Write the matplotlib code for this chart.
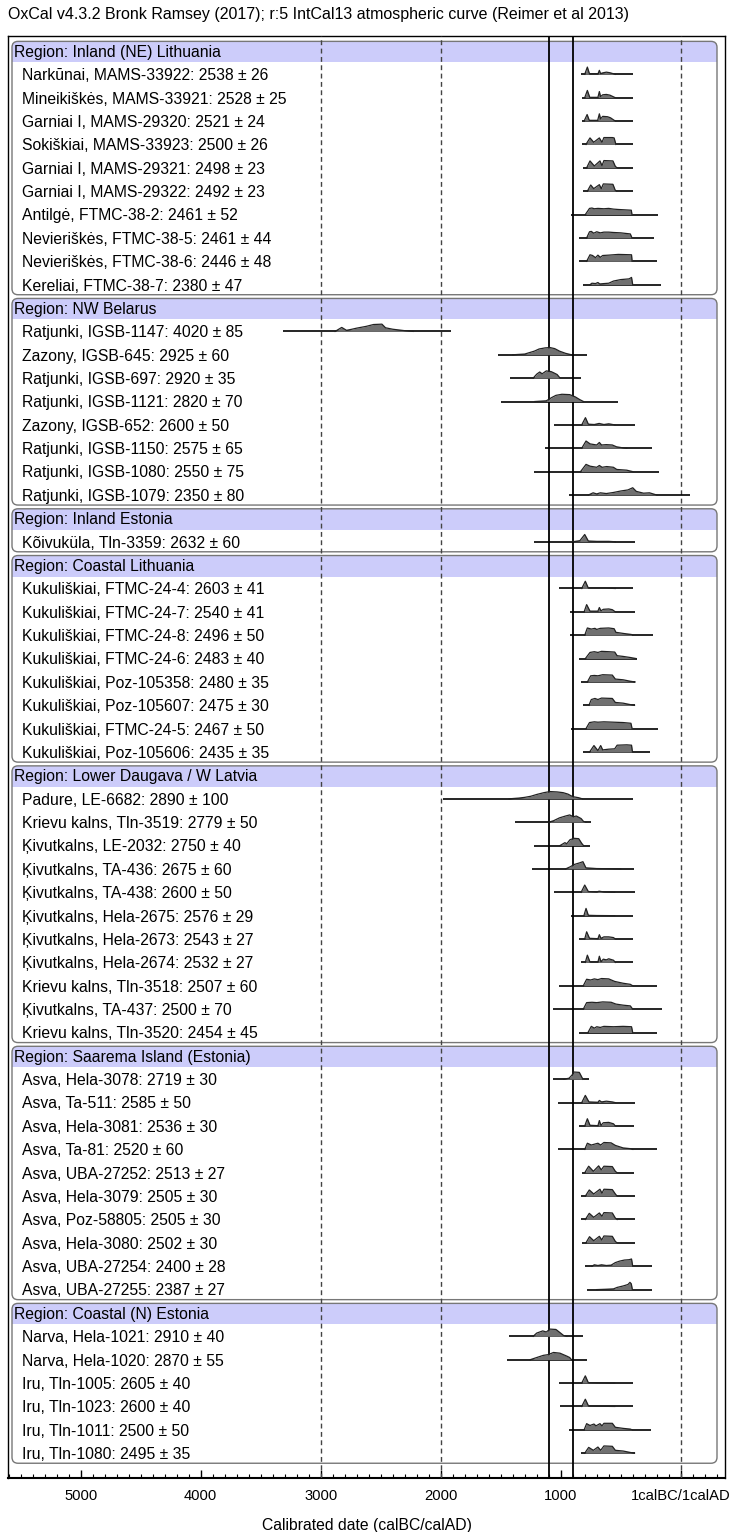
import matplotlib
matplotlib.use("Agg")
import matplotlib.pyplot as plt
from matplotlib.patches import FancyBboxPatch, Rectangle
from matplotlib.ticker import FixedLocator, MultipleLocator

plt.rcParams['font.family'] = ['Liberation Sans', 'DejaVu Sans']

TITLE = ("OxCal v4.3.2 Bronk Ramsey (2017); r:5 IntCal13 atmospheric curve "
         "(Reimer et al 2013)")
X_LABEL = "Calibrated date (calBC/calAD)"

region_names = [
    "Region: Inland (NE) Lithuania",
    "Region: NW Belarus",
    "Region: Inland Estonia",
    "Region: Coastal Lithuania",
    "Region: Lower Daugava / W Latvia",
    "Region: Saarema Island (Estonia)",
    "Region: Coastal (N) Estonia",
]
region_sizes = [10, 8, 1, 8, 11, 10, 6]

sample_labels = [
    "Narkūnai, MAMS-33922: 2538 ± 26",
    "Mineikiškės, MAMS-33921: 2528 ± 25",
    "Garniai I, MAMS-29320: 2521 ± 24",
    "Sokiškiai, MAMS-33923: 2500 ± 26",
    "Garniai I, MAMS-29321: 2498 ± 23",
    "Garniai I, MAMS-29322: 2492 ± 23",
    "Antilgė, FTMC-38-2: 2461 ± 52",
    "Nevieriškės, FTMC-38-5: 2461 ± 44",
    "Nevieriškės, FTMC-38-6: 2446 ± 48",
    "Kereliai, FTMC-38-7: 2380 ± 47",
    "Ratjunki, IGSB-1147: 4020 ± 85",
    "Zazony, IGSB-645: 2925 ± 60",
    "Ratjunki, IGSB-697: 2920 ± 35",
    "Ratjunki, IGSB-1121: 2820 ± 70",
    "Zazony, IGSB-652: 2600 ± 50",
    "Ratjunki, IGSB-1150: 2575 ± 65",
    "Ratjunki, IGSB-1080: 2550 ± 75",
    "Ratjunki, IGSB-1079: 2350 ± 80",
    "Kõivuküla, Tln-3359: 2632 ± 60",
    "Kukuliškiai, FTMC-24-4: 2603 ± 41",
    "Kukuliškiai, FTMC-24-7: 2540 ± 41",
    "Kukuliškiai, FTMC-24-8: 2496 ± 50",
    "Kukuliškiai, FTMC-24-6: 2483 ± 40",
    "Kukuliškiai, Poz-105358: 2480 ± 35",
    "Kukuliškiai, Poz-105607: 2475 ± 30",
    "Kukuliškiai, FTMC-24-5: 2467 ± 50",
    "Kukuliškiai, Poz-105606: 2435 ± 35",
    "Padure, LE-6682: 2890 ± 100",
    "Krievu kalns, Tln-3519: 2779 ± 50",
    "Ķivutkalns, LE-2032: 2750 ± 40",
    "Ķivutkalns, TA-436: 2675 ± 60",
    "Ķivutkalns, TA-438: 2600 ± 50",
    "Ķivutkalns, Hela-2675: 2576 ± 29",
    "Ķivutkalns, Hela-2673: 2543 ± 27",
    "Ķivutkalns, Hela-2674: 2532 ± 27",
    "Krievu kalns, Tln-3518: 2507 ± 60",
    "Ķivutkalns, TA-437: 2500 ± 70",
    "Krievu kalns, Tln-3520: 2454 ± 45",
    "Asva, Hela-3078: 2719 ± 30",
    "Asva, Ta-511: 2585 ± 50",
    "Asva, Hela-3081: 2536 ± 30",
    "Asva, Ta-81: 2520 ± 60",
    "Asva, UBA-27252: 2513 ± 27",
    "Asva, Hela-3079: 2505 ± 30",
    "Asva, Poz-58805: 2505 ± 30",
    "Asva, Hela-3080: 2502 ± 30",
    "Asva, UBA-27254: 2400 ± 28",
    "Asva, UBA-27255: 2387 ± 27",
    "Narva, Hela-1021: 2910 ± 40",
    "Narva, Hela-1020: 2870 ± 55",
    "Iru, Tln-1005: 2605 ± 40",
    "Iru, Tln-1023: 2600 ± 40",
    "Iru, Tln-1011: 2500 ± 50",
    "Iru, Tln-1080: 2495 ± 35",
]

# extent of the range line under each distribution (calBC, negative = calAD)
range_start_bc = [
    834, 823, 823, 823, 812, 812, 912, 845, 845, 812,
    3317, 1519, 1422, 1500, 1055, 1133, 1222, 933,
    1223,
    1012, 923, 923, 845, 828, 817, 912, 812,
    1980, 1384, 1223, 1239, 1056, 912, 845, 834, 1012, 1061, 845,
    1061, 1023, 845, 1023, 823, 828, 828, 823, 800, 784,
    1428, 1445, 1012, 1006, 928, 834,
]
range_end_bc = [
    395, 395, 395, 395, 395, 395, 189, 223, 195, 161,
    1914, 783, 833, 525, 380, 242, 183, -81,
    378,
    395, 384, 228, 367, 378, 384, 189, 256,
    395, 750, 756, 389, 384, 400, 395, 395, 200, 156, 200,
    767, 384, 389, 195, 389, 384, 384, 384, 239, 239,
    817, 778, 395, 395, 245, 384,
]

# outline of each calibrated density: (calBC, height relative to its peak)
profiles = [
    [(800, 0), (778, 1), (760, .05), (690, .05), (678, .55), (668, .1), (650, .2), (620, .3), (590, .22), (545, 0)],
    [(800, 0), (778, 1), (758, .05), (690, .05), (678, .85), (668, .15), (650, .4), (620, .45), (590, .35), (545, 0)],
    [(805, 0), (780, .9), (762, .1), (692, .1), (678, 1), (668, .3), (650, .65), (610, .6), (585, .45), (545, 0)],
    [(790, 0), (756, .9), (725, .3), (678, .9), (656, .3), (640, .95), (570, .95), (555, .9), (540, 0)],
    [(784, 0), (756, .95), (720, .25), (673, .95), (656, .3), (640, 1), (565, .95), (545, .2), (530, 0)],
    [(778, 0), (750, .85), (725, .35), (678, .9), (662, .35), (645, 1), (565, .95), (545, .1), (534, 0)],
    [(795, 0), (760, .85), (740, .9), (720, .8), (690, .85), (640, .8), (600, .85), (560, .75), (520, .7), (412, .6), (406, 0)],
    [(784, 0), (760, .85), (745, .9), (725, .65), (700, .85), (670, .7), (640, .8), (600, .8), (560, .75), (500, .7), (420, .55), (406, 0)],
    [(784, 0), (756, .9), (735, .8), (710, .5), (690, .85), (670, .55), (650, .8), (600, .85), (520, .95), (410, .9), (405, 0)],
    [(756, 0), (740, .2), (710, .15), (690, .3), (675, .1), (640, .15), (600, .2), (560, .5), (500, .7), (430, .8), (410, 1), (400, 0)],
    [(2880, 0), (2825, .55), (2785, .15), (2740, .3), (2700, .45), (2620, .7), (2560, .95), (2490, 1), (2460, .5), (2400, .3), (2300, .1), (2230, 0)],
    [(1400, 0), (1300, .1), (1220, .5), (1180, .8), (1130, .95), (1090, 1), (1050, .85), (1010, .5), (960, .2), (910, 0)],
    [(1230, 0), (1200, .55), (1175, .85), (1155, .6), (1120, 1), (1080, .9), (1060, .75), (1030, .5), (1005, 0)],
    [(1215, 0), (1120, .1), (1075, .55), (1040, .85), (990, 1), (925, .95), (880, .65), (840, .25), (810, 0)],
    [(825, 0), (794, 1), (770, .1), (720, .05), (680, .2), (640, .05), (600, .15), (550, 0)],
    [(825, 0), (789, 1), (755, .6), (700, .45), (678, .8), (660, .45), (620, .5), (570, .45), (535, .2), (480, .05), (450, 0)],
    [(835, 0), (789, 1), (755, .75), (700, .6), (678, .85), (655, .6), (617, .7), (561, .6), (533, .3), (450, .2), (400, 0)],
    [(770, 0), (730, .3), (700, .15), (670, .3), (620, .2), (560, .35), (500, .55), (440, .7), (400, 1), (370, .5), (310, .25), (260, .3), (200, 0)],
    [(900, 0), (840, .15), (800, 1), (770, .1), (700, .05), (600, .05), (545, 0)],
    [(825, 0), (795, 1), (770, .05), (700, .05), (620, .05), (545, 0)],
    [(805, 0), (784, 1), (756, .1), (690, .1), (678, .6), (665, .15), (645, .35), (600, .4), (570, .3), (545, 0)],
    [(800, 0), (778, 1), (745, .85), (715, .95), (700, .8), (670, .95), (600, 1), (555, .9), (540, .4), (480, .25), (410, .1), (400, 0)],
    [(795, 0), (756, .85), (720, .95), (690, .85), (660, 1), (600, .95), (550, .9), (530, .4), (480, .3), (420, .15), (370, 0)],
    [(778, 0), (750, .85), (720, .9), (690, .85), (650, 1), (570, .95), (545, .4), (480, .3), (420, .1), (380, 0)],
    [(765, 0), (745, .8), (715, .95), (690, .8), (660, 1), (570, .95), (545, .4), (480, .3), (420, .1), (385, 0)],
    [(790, 0), (760, .85), (720, .95), (690, .9), (640, .95), (560, .9), (480, .85), (415, .75), (405, 0)],
    [(760, 0), (723, .9), (690, .2), (667, .9), (650, .3), (600, .4), (550, .45), (530, .95), (450, 1), (410, .95), (402, 0)],
    [(1430, 0), (1350, .1), (1300, .2), (1250, .35), (1200, .6), (1140, .85), (1090, 1), (1030, .95), (980, .85), (940, .65), (900, .3), (850, .15), (820, 0)],
    [(1100, 0), (1060, .2), (1010, .6), (960, .85), (925, 1), (895, .75), (870, .85), (830, .5), (810, .1), (790, 0)],
    [(1006, 0), (965, .4), (950, .25), (923, .8), (890, 1), (850, .95), (825, .3), (810, 0)],
    [(960, 0), (920, .3), (890, .6), (840, .85), (815, 1), (790, .15), (700, .05), (600, .03), (500, 0)],
    [(830, 0), (800, 1), (770, .1), (700, .05), (680, .15), (640, .05), (550, 0)],
    [(807, 0), (789, 1), (770, .05), (700, .02), (550, 0)],
    [(800, 0), (784, 1), (760, .1), (690, .05), (678, .6), (665, .1), (640, .3), (600, .3), (560, .2), (545, 0)],
    [(795, 0), (778, 1), (756, .05), (690, .05), (678, .85), (665, .1), (645, .45), (620, .35), (600, .5), (560, .3), (545, 0)],
    [(812, 0), (784, .9), (750, .8), (720, .95), (690, .85), (660, 1), (600, .95), (550, .6), (480, .35), (420, .2), (400, 0)],
    [(812, 0), (784, .9), (740, .95), (700, .9), (650, 1), (580, .95), (540, .7), (480, .55), (420, .45), (400, 0)],
    [(773, 0), (745, .85), (720, .6), (700, .8), (670, .7), (640, .85), (560, .8), (480, .85), (410, .8), (400, 0)],
    [(975, 0), (930, .15), (905, .6), (890, 1), (845, .95), (815, 0)],
    [(825, 0), (795, 1), (765, .1), (690, .05), (678, .3), (660, .1), (620, .2), (570, .1), (545, 0)],
    [(800, 0), (778, 1), (756, .1), (690, .05), (678, .75), (665, .1), (645, .45), (600, .5), (560, .3), (545, 0)],
    [(800, 0), (778, .85), (745, .6), (690, .85), (667, .6), (640, .95), (580, .9), (545, .55), (480, .2), (420, .1), (400, 0)],
    [(800, 0), (767, .9), (728, .2), (684, .95), (662, .4), (640, .9), (570, .85), (545, .2), (530, 0)],
    [(795, 0), (762, .85), (725, .3), (673, .95), (656, .4), (640, .95), (570, .9), (545, .3), (530, 0)],
    [(795, 0), (762, .85), (725, .3), (678, .9), (656, .45), (640, .95), (570, .9), (545, .2), (530, 0)],
    [(790, 0), (760, .85), (725, .3), (678, .9), (658, .4), (640, .95), (570, .9), (545, .2), (530, 0)],
    [(740, 0), (720, .2), (690, .1), (660, .2), (620, .1), (580, .15), (545, .5), (510, .7), (470, .85), (430, .9), (410, 1), (400, 0)],
    [(700, 0), (620, .05), (560, .1), (530, .3), (480, .5), (440, .7), (423, 1), (412, .8), (403, 0)],
    [(1230, 0), (1200, .45), (1175, .6), (1150, .75), (1120, .6), (1090, 1), (1040, .95), (1005, .5), (975, .1), (950, 0)],
    [(1255, 0), (1200, .3), (1145, .6), (1105, .7), (1060, 1), (1006, .9), (950, .5), (925, .3), (910, 0)],
    [(825, 0), (795, 1), (770, .05), (700, .03), (550, 0)],
    [(825, 0), (795, 1), (768, .05), (700, .03), (550, 0)],
    [(805, 0), (784, .85), (756, .6), (723, .8), (706, .55), (673, .85), (656, .55), (640, .9), (570, .9), (545, .35), (480, .2), (420, .1), (405, 0)],
    [(800, 0), (767, .8), (728, .4), (690, .85), (667, .4), (640, 1), (570, .95), (545, .4), (480, .3), (420, .1), (385, 0)],
]

solid_lines_bc = [1100, 900]
dashed_lines_bc = [3000, 2000, 0]
tick_years_bc = [5000, 4000, 3000, 2000, 1000, 0]
tick_labels = ["5000", "4000", "3000", "2000", "1000", "1calBC/1calAD"]

# layout (pixels of the 733 x 1532 output)
FIG_W, FIG_H = 733, 1532
AX_LEFT, AX_RIGHT, AX_TOP, AX_BOTTOM = 8, 725, 36, 1477.5
X_MIN, X_MAX = -5606, 369          # calAD, BC negative
Y_TOP, Y_BOTTOM = -0.64, 61.04     # row units
PEAK = 0.31                        # tallest density, in rows
FONT = 11.3
TITLE_FONT = 11.5
TICK_FONT = 10.6
TEXT_DROP = 0.25                   # text baseline below the range line, rows


def row_to_axes(row: float) -> float:
    """Row index -> axes fraction (rows run downwards)."""
    return (Y_BOTTOM - row) / (Y_BOTTOM - Y_TOP)


def draw_region_box(ax, header_row: int, last_row: int, name: str) -> None:
    """Rounded box with a lavender header band, as OxCal draws it."""
    ax_w = AX_RIGHT - AX_LEFT
    ax_h = AX_BOTTOM - AX_TOP
    x0 = (12 - AX_LEFT) / ax_w
    x1 = (717 - AX_LEFT) / ax_w
    top = row_to_axes(header_row - 0.41)
    bottom = row_to_axes(last_row + 0.43)
    band_bottom = row_to_axes(header_row + 0.49)
    style = "round,pad=0,rounding_size=%f" % (6 / ax_w)

    clip = FancyBboxPatch((x0, bottom), x1 - x0, top - bottom, boxstyle=style,
                          mutation_aspect=ax_w / ax_h, transform=ax.transAxes,
                          facecolor="none", edgecolor="none")
    ax.add_patch(clip)
    band = Rectangle((x0, band_bottom), x1 - x0, top - band_bottom,
                     transform=ax.transAxes, facecolor="#ccccfa",
                     edgecolor="none", zorder=1)
    ax.add_patch(band)
    band.set_clip_path(clip)
    ax.add_patch(FancyBboxPatch((x0, bottom), x1 - x0, top - bottom,
                                boxstyle=style, mutation_aspect=ax_w / ax_h,
                                transform=ax.transAxes, facecolor="none",
                                edgecolor="#777777", lw=1.0, zorder=2))
    ax.text((14 - AX_LEFT) / ax_w, row_to_axes(header_row + TEXT_DROP), name,
            transform=ax.transAxes, ha="left", va="baseline",
            fontsize=FONT, zorder=5)


def draw_sample(ax, row: int, label: str, start_bc: float, end_bc: float,
                profile) -> None:
    """Range line plus filled density for one date."""
    ax_w = AX_RIGHT - AX_LEFT
    ax.plot([-start_bc, -end_bc], [row, row], color="black", lw=1.2,
            solid_capstyle="butt", zorder=4)
    xs = [-bc for bc, _ in profile]
    ys = [row - h * PEAK for _, h in profile]
    ax.fill_between(xs, row, ys, color="#707070", lw=0, zorder=4)
    ax.plot(xs, ys, color="#222222", lw=0.9, zorder=4)
    ax.text((22 - AX_LEFT) / ax_w, row_to_axes(row + TEXT_DROP), label,
            transform=ax.transAxes, ha="left", va="baseline",
            fontsize=FONT, zorder=5)


if __name__ == "__main__":
    fig = plt.figure(figsize=(FIG_W / 100, FIG_H / 100), dpi=100)
    ax = fig.add_axes([AX_LEFT / FIG_W, 1 - AX_BOTTOM / FIG_H,
                       (AX_RIGHT - AX_LEFT) / FIG_W,
                       (AX_BOTTOM - AX_TOP) / FIG_H])
    ax.set_xlim(X_MIN, X_MAX)
    ax.set_ylim(Y_BOTTOM, Y_TOP)

    row = 0
    k = 0
    for name, n in zip(region_names, region_sizes):
        draw_region_box(ax, row, row + n, name)
        for i in range(n):
            draw_sample(ax, row + 1 + i, sample_labels[k], range_start_bc[k],
                        range_end_bc[k], profiles[k])
            k += 1
        row += n + 1

    for bc in solid_lines_bc:
        ax.axvline(-bc, color="black", lw=1.3, zorder=3)
    for bc in dashed_lines_bc:
        ax.axvline(-bc, color="#444444", lw=1.0, linestyle=(0, (3.5, 2.5)),
                   zorder=3)

    ax.xaxis.set_major_locator(FixedLocator([-y for y in tick_years_bc]))
    ax.set_xticklabels(tick_labels)
    ax.xaxis.set_minor_locator(MultipleLocator(100))
    ax.tick_params(axis="x", which="major", direction="in", length=5.8,
                   width=1.0, pad=8, labelsize=TICK_FONT)
    ax.tick_params(axis="x", which="minor", direction="in", length=2.8,
                   width=0.8)
    ax.set_yticks([])
    for side in ax.spines.values():
        side.set_linewidth(1.0)
    ax.spines["bottom"].set_linewidth(1.5)
    ax.set_xlabel(X_LABEL, fontsize=FONT, labelpad=11)

    fig.text(AX_LEFT / FIG_W, 1 - 19 / FIG_H, TITLE, ha="left",
             va="baseline", fontsize=TITLE_FONT)

    fig.savefig("out.png", dpi=100)
